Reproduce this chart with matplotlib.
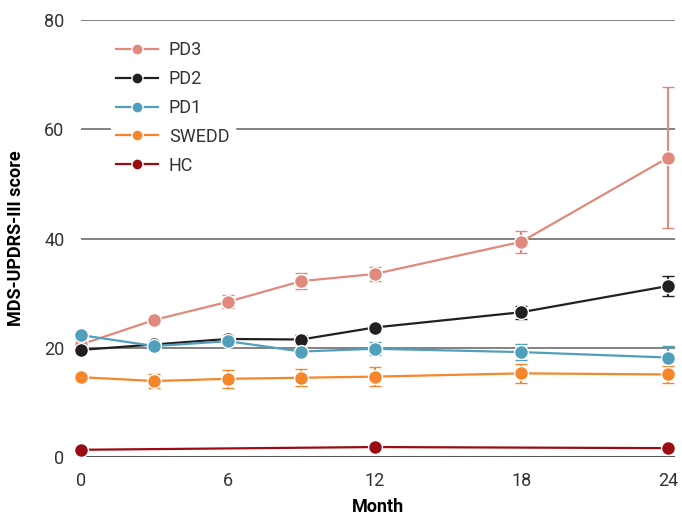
import matplotlib
matplotlib.use("Agg")
import matplotlib.pyplot as plt
from matplotlib import font_manager

names = {f.name for f in font_manager.fontManager.ttflist}
fam = "Liberation Sans Narrow" if "Liberation Sans Narrow" in names else "Roboto"
plt.rcParams['font.family'] = [fam, 'DejaVu Sans']

months = [0, 3, 6, 9, 12, 18, 24]
hc_months = [0, 12, 24]

pd3 = [20.6, 25.1, 28.4, 32.2, 33.5, 39.4, 54.8]
pd3_err = [0.5, 0.5, 1.2, 1.5, 1.3, 2.0, 12.9]
pd2 = [19.6, 20.6, 21.6, 21.5, 23.7, 26.5, 31.3]
pd2_err = [0.5, 0.6, 0.8, 0.8, 0.6, 1.2, 1.9]
pd1 = [22.3, 20.3, 21.2, 19.3, 19.8, 19.2, 18.2]
pd1_err = [0.5, 0.5, 0.6, 0.5, 1.2, 1.5, 2.2]
swedd = [14.6, 13.9, 14.3, 14.5, 14.7, 15.3, 15.1]
swedd_err = [0.6, 1.2, 1.6, 1.6, 1.7, 1.7, 1.6]
hc = [1.3, 1.8, 1.6]
hc_err = [0.2, 0.2, 0.2]

series = [
    ("PD3", months, pd3, pd3_err, "#E0897D"),
    ("PD2", months, pd2, pd2_err, "#231F20"),
    ("PD1", months, pd1, pd1_err, "#509FBC"),
    ("SWEDD", months, swedd, swedd_err, "#F5862B"),
    ("HC", hc_months, hc, hc_err, "#9A0B12"),
]

fig = plt.figure(figsize=(6.82, 5.18), dpi=100)
ax = fig.add_axes([0.119, 0.118, 0.871, 0.843])

for y in [20, 40, 60, 80]:
    ax.axhline(y, color="#6d6d6d", lw=1.2, zorder=0)
ax.axhline(0, color="#555555", lw=2.2, zorder=0)

for name, x, y, err, c in series:
    ax.errorbar(x, y, yerr=err, color=c, lw=1.6, elinewidth=1.5, capsize=4,
                capthick=1.5, marker="o", markersize=10, markeredgecolor="white",
                markeredgewidth=1, label=name, clip_on=False, zorder=3)

ax.set_xlim(0, 24.3)
ax.set_ylim(0, 80)
ax.set_xticks([0, 6, 12, 18, 24])
ax.set_yticks([0, 20, 40, 60, 80])
ax.tick_params(length=0, labelsize=13, colors="#333333")
ax.tick_params(axis="x", pad=11)
ax.tick_params(axis="y", pad=12)
for s in ax.spines.values():
    s.set_visible(False)

ax.set_xlabel("Month", fontsize=13, fontweight="bold", labelpad=6)
ax.set_ylabel("MDS-UPDRS-III score", fontsize=13, fontweight="bold", labelpad=14)

handles, labels = ax.get_legend_handles_labels()
handles = [h[0] for h in handles]
leg = ax.legend(handles, labels, loc="upper left", bbox_to_anchor=(0.035, 0.985),
                frameon=True, fontsize=13, handlelength=2.3, labelspacing=0.6,
                borderpad=0.3, handletextpad=0.6, markerscale=0.8)
leg.get_frame().set_facecolor("white")
leg.get_frame().set_edgecolor("white")
leg.get_frame().set_alpha(1)
leg.set_zorder(5)
for t in leg.get_texts():
    t.set_color("#333333")

fig.savefig("out.png", dpi=100)
